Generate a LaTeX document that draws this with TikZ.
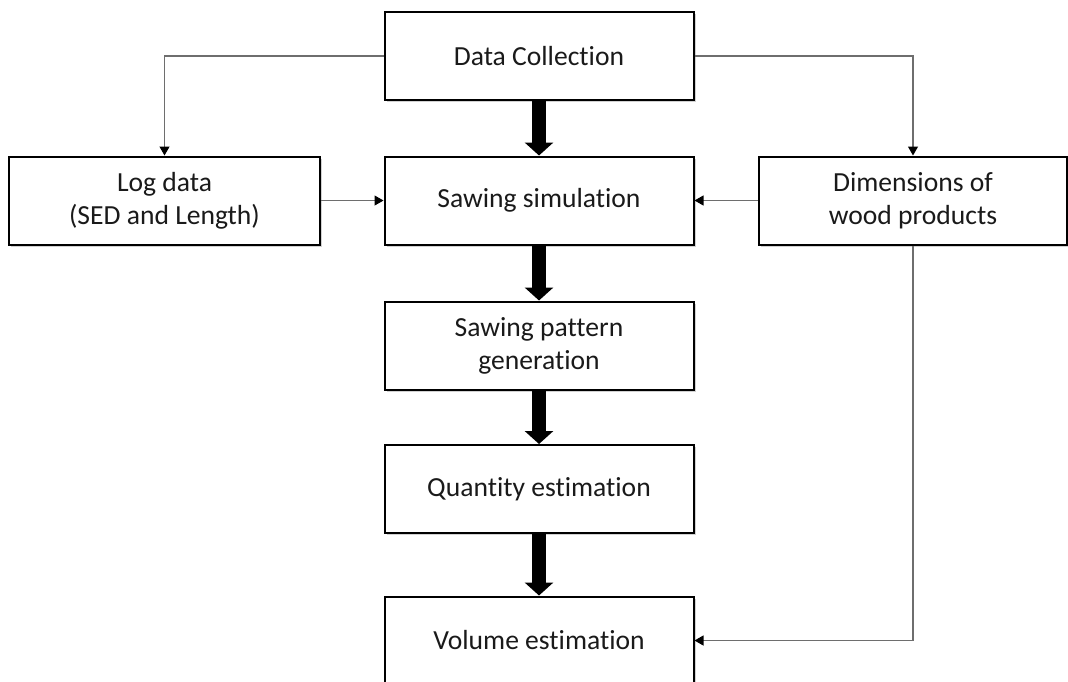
\documentclass[tikz,border=0pt]{standalone}
\usepackage{fontspec}
\setmainfont[Ligatures=NoCommon]{Carlito}
\usetikzlibrary{arrows.meta, positioning, shadows}
\definecolor{linegray}{HTML}{6E6E6E}
\definecolor{txtdark}{HTML}{1A1A1A}

\begin{document}
\begin{tikzpicture}[x=0.5pt, y=-0.5pt,
  stage/.style={draw=black, line width=1pt, fill=white, text=txtdark,
    minimum width=154.5pt, minimum height=44pt, align=center,
    font=\fontsize{13.8}{16.5}\selectfont,
    drop shadow={shadow xshift=1pt, shadow yshift=-1.2pt, opacity=0.3, fill=black!60}},
  flow/.style={line width=7pt, -{Triangle[length=6.5pt, width=14pt]}},
  feed/.style={linegray, line width=0.55pt, -{Triangle[length=4.5pt, width=5pt, color=black]}}]

% Frame
\path[use as bounding box, clip] (0,0) rectangle (1068,681);

% Stages
\node[stage] (collect) at (539,56) {Data Collection};
\node[stage] (sawsim) at (539,200.5) {Sawing simulation};
\node[stage, minimum width=155.5pt] (logdata) at (164.5,200.5) {Log data\\(SED and Length)};
\node[stage, minimum width=154pt] (dims) at (913,200.5) {Dimensions of\\wood products};
\node[stage] (pattern) at (539,345.5) {Sawing pattern\\generation};
\node[stage] (quantity) at (539,489) {Quantity estimation};
\node[stage] (volume) at (539,640.5) {Volume estimation};

% Main flow
\draw[flow] (collect.south) -- (sawsim.north);
\draw[flow] (sawsim.south) -- (pattern.north);
\draw[flow] (pattern.south) -- (quantity.north);
\draw[flow] (quantity.south) -- (volume.north);

% Inputs
\draw[feed] (collect.west) -| (logdata.north);
\draw[feed] (collect.east) -| (dims.north);
\draw[feed] (logdata.east) -- (sawsim.west);
\draw[feed] (dims.west) -- (sawsim.east);
\draw[feed] (dims.south) |- (volume.east);

\end{tikzpicture}
\end{document}
